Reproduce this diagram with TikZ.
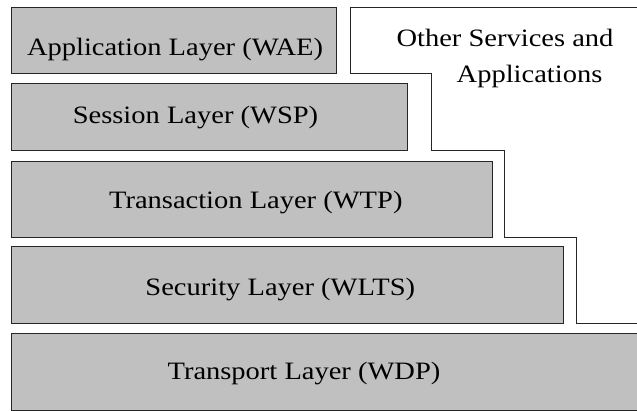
\documentclass[tikz,border=0pt]{standalone}
\usepackage{fontspec}
\setmainfont{Liberation Serif}
\newfontfamily\layerfont[FakeStretch=1.14]{Liberation Serif}
\definecolor{laygray}{RGB}{192,192,192}

\begin{document}
\begin{tikzpicture}[x=1pt, y=-1pt,
  layer/.style={draw=black!85, line width=1pt, fill=laygray},
  other/.style={draw=black!85, line width=1pt, fill=white},
  lyrtext/.style={anchor=base, inner sep=0pt, font=\layerfont\fontsize{25}{29}\selectfont}]
  \clip (0,0) rectangle (637,411);

  % Other services (stepped outline)
  \draw[other] (350.5,7.5) -- (350.5,74) -- (431.5,74) -- (431.5,151)
    -- (504,151) -- (504,238) -- (576,238) -- (576,324)
    -- (645,324) -- (645,7.5) -- cycle;
  \node[lyrtext] (oth1) at (505,46.5) {Other Services and};
  \node[lyrtext] (oth2) at (529.5,83) {Applications};

  % Application layer
  \draw[layer] (11.5,7.5) rectangle (336.5,74);
  \node[lyrtext] (wae) at (175,56) {Application Layer (WAE)};

  % Session layer
  \draw[layer] (11.5,84) rectangle (407.5,151);
  \node[lyrtext] (wsp) at (195.5,123.3) {Session Layer (WSP)};

  % Transaction layer
  \draw[layer] (11.5,162) rectangle (492,238);
  \node[lyrtext] (wtp) at (255.8,209) {Transaction Layer (WTP)};

  % Security layer
  \draw[layer] (11.5,247) rectangle (563.5,324);
  \node[lyrtext] (wlts) at (280.3,296) {Security Layer (WLTS)};

  % Transport layer
  \draw[layer] (11.5,334) rectangle (645,410);
  \node[lyrtext] (wdp) at (304,379.5) {Transport Layer (WDP)};
\end{tikzpicture}
\end{document}
